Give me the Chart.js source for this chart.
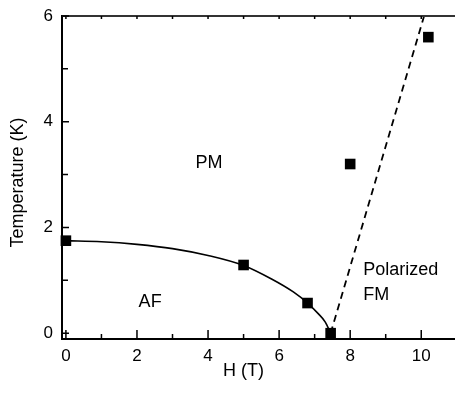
<!DOCTYPE html>
<html>
<head>
<meta charset="utf-8">
<script src="https://cdn.jsdelivr.net/npm/chart.js@4/dist/chart.umd.min.js"></script>
<style>
html,body{margin:0;padding:0;background:#fff;}
#wrap{width:455px;height:393px;}
</style>
</head>
<body>
<div id="wrap"><canvas id="c" width="455" height="393"></canvas></div>
<script>
// Measured points
const pointsH = [0, 5, 6.8, 7.45, 8, 10.2];
const pointsT = [1.75, 1.29, 0.57, 0, 3.2, 5.6];
// AF phase boundary (solid curve)
const curveH = [0, 1, 2, 3, 4, 5, 5.8, 6.4, 6.8, 7.1, 7.3, 7.45];
const curveT = [1.75, 1.73, 1.68, 1.6, 1.47, 1.28, 1.02, 0.78, 0.57, 0.37, 0.21, 0];
// Dashed line (polarized FM boundary)
const dashH = [7.45, 10.08];
const dashT = [0, 6];
// Ticks
const xTickLabels = [0, 2, 4, 6, 8, 10];
const xMinorTicks = [1, 3, 5, 7, 9];
const yTickLabels = [0, 2, 4, 6];
const yMinorTicks = [1, 3, 5];
// Region labels (data coordinates)
const regionText = ["PM", "AF", "Polarized", "FM"];
const regionH = [4.03, 2.37, 8.37, 8.37];
const regionT = [3.22, 0.59, 1.2, 0.73];
const regionAlign = ["center", "center", "left", "left"];

const FONT = "'Liberation Sans', Arial, sans-serif";

const toXY = (xs, ys) => xs.map((x, i) => ({x: x, y: ys[i]}));

const decor = {
  id: 'decor',
  afterDraw(chart) {
    const ctx = chart.ctx;
    const xs = chart.scales.x, ys = chart.scales.y;
    const a = chart.chartArea;
    ctx.save();
    // top axis line
    ctx.beginPath();
    ctx.strokeStyle = '#333';
    ctx.lineWidth = 2;
    ctx.moveTo(a.left, a.top);
    ctx.lineTo(a.right, a.top);
    ctx.stroke();
    ctx.strokeStyle = '#000';
    ctx.lineWidth = 1.5;
    // inward ticks
    ctx.beginPath();
    xTickLabels.forEach(v => {
      const p = xs.getPixelForValue(v);
      ctx.moveTo(p, a.bottom); ctx.lineTo(p, a.bottom - 9);
      ctx.moveTo(p, a.top); ctx.lineTo(p, a.top + 3);
    });
    xMinorTicks.forEach(v => {
      const p = xs.getPixelForValue(v);
      ctx.moveTo(p, a.bottom); ctx.lineTo(p, a.bottom - 5);
      ctx.moveTo(p, a.top); ctx.lineTo(p, a.top + 3);
    });
    yTickLabels.forEach(v => {
      const p = ys.getPixelForValue(v);
      ctx.moveTo(a.left, p); ctx.lineTo(a.left + 7, p);
    });
    yMinorTicks.forEach(v => {
      const p = ys.getPixelForValue(v);
      ctx.moveTo(a.left, p); ctx.lineTo(a.left + 6, p);
    });
    ctx.stroke();
    // region labels
    ctx.fillStyle = '#000';
    ctx.font = '18px ' + FONT;
    ctx.textBaseline = 'middle';
    regionText.forEach((t, i) => {
      ctx.textAlign = regionAlign[i];
      ctx.fillText(t, xs.getPixelForValue(regionH[i]), ys.getPixelForValue(regionT[i]));
    });
    // axis titles
    ctx.font = '18px ' + FONT;
    ctx.textAlign = 'center';
    ctx.textBaseline = 'middle';
    ctx.fillText('H (T)', xs.getPixelForValue(5), 371);
    ctx.save();
    ctx.translate(18, (a.top + a.bottom) / 2 + 5);
    ctx.rotate(-Math.PI / 2);
    ctx.fillText('Temperature (K)', 0, 0);
    ctx.restore();
    ctx.restore();
  }
};

new Chart(document.getElementById('c'), {
  type: 'scatter',
  data: {
    datasets: [
      {
        data: toXY(curveH, curveT),
        showLine: true,
        borderColor: '#000',
        borderWidth: 1.6,
        pointRadius: 0,
        cubicInterpolationMode: 'monotone',
        fill: false
      },
      {
        data: toXY(dashH, dashT),
        showLine: true,
        borderColor: '#000',
        borderWidth: 1.8,
        borderDash: [7, 5],
        pointRadius: 0,
        fill: false
      },
      {
        data: toXY(pointsH, pointsT),
        showLine: false,
        pointStyle: 'rect',
        pointRadius: 7.5,
        pointHoverRadius: 7.5,
        backgroundColor: '#000',
        borderColor: '#000',
        borderWidth: 0
      }
    ]
  },
  options: {
    responsive: false,
    animation: false,
    clip: false,
    layout: { autoPadding: false, padding: { top: 16, right: 0, left: 0, bottom: 0 } },
    plugins: { legend: { display: false }, tooltip: { enabled: false } },
    scales: {
      x: {
        type: 'linear',
        min: -0.11,
        max: 10.95,
        afterBuildTicks: s => { s.ticks = xTickLabels.map(v => ({value: v})); },
        afterFit: s => { s.height = 54; s.paddingLeft = 0; s.paddingRight = 0; },
        grid: { display: false, drawTicks: false },
        border: { display: true, color: '#000', width: 2 },
        ticks: { color: '#000', font: { size: 17, family: FONT }, padding: 7, maxRotation: 0 }
      },
      y: {
        type: 'linear',
        min: -0.11,
        max: 6,
        afterBuildTicks: s => { s.ticks = yTickLabels.map(v => ({value: v})); },
        afterFit: s => { s.width = 62; s.paddingTop = 0; s.paddingBottom = 0; },
        grid: { display: false, drawTicks: false },
        border: { display: true, color: '#000', width: 2 },
        ticks: { color: '#000', font: { size: 17, family: FONT }, padding: 9 }
      }
    }
  },
  plugins: [decor]
});
</script>
</body>
</html>
